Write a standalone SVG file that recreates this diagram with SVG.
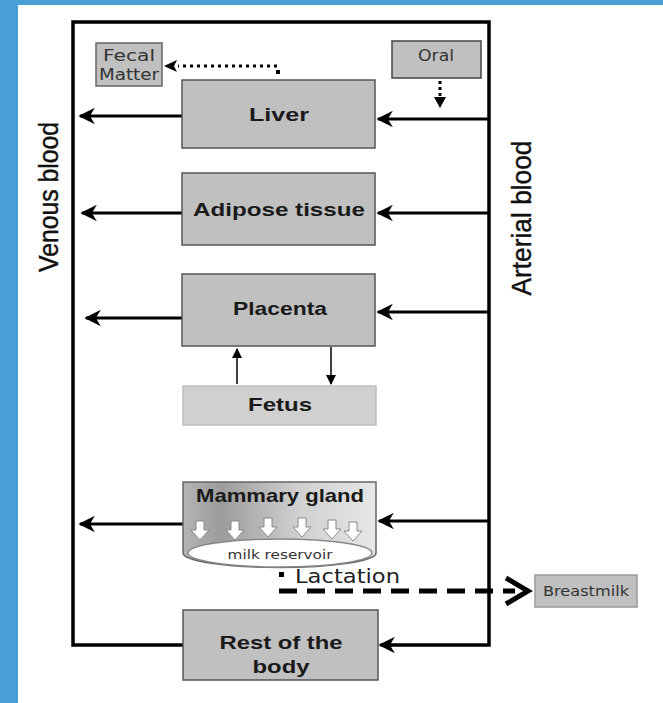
<svg xmlns="http://www.w3.org/2000/svg" width="663" height="703" viewBox="0 0 663 703">
<defs>
<style>
.box{fill:#c0c0c0;stroke:#555;stroke-width:1.5}
.lbl{font-family:"Liberation Sans",Arial,sans-serif;font-weight:bold;font-size:19px;fill:#1a1a1a;text-anchor:middle}
.sm{font-family:"DejaVu Sans","Liberation Sans",sans-serif;font-size:13px;fill:#333;text-anchor:middle}
.frame{fill:none;stroke:#000;stroke-width:3.5}
.arr{stroke:#000;stroke-width:3;fill:none}
.side{font-family:"Liberation Sans",Arial,sans-serif;font-size:27px;fill:#111;text-anchor:middle;stroke:#111;stroke-width:0.4}
</style>
<marker id="ah" viewBox="0 0 10 10" refX="9" refY="5" markerWidth="5.5" markerHeight="5.5" orient="auto" markerUnits="strokeWidth">
<path d="M0,0 L10,5 L0,10 L3,5 Z" fill="#000"/>
</marker>
<marker id="ahs" viewBox="0 0 10 10" refX="9" refY="5" markerWidth="7" markerHeight="7" orient="auto" markerUnits="strokeWidth">
<path d="M0,0 L10,5 L0,10 Z" fill="#000"/>
</marker>
<linearGradient id="mg" x1="0" y1="0" x2="1" y2="0">
<stop offset="0" stop-color="#b4b4b4"/>
<stop offset="0.2" stop-color="#9c9c9c"/>
<stop offset="0.6" stop-color="#d0d0d0"/>
<stop offset="1" stop-color="#e6e6e6"/>
</linearGradient>
</defs>
<rect x="0" y="0" width="663" height="703" fill="#ffffff"/>
<rect x="0" y="0" width="663" height="5" fill="#4a9ed6"/>
<rect x="0" y="0" width="18" height="703" fill="#4a9ed6"/>

<g id="connectors">
<path class="frame" d="M183,645 H73 V22 H489 V645 H390"/>
<line class="arr" x1="489" y1="119" x2="378" y2="119" marker-end="url(#ah)"/>
<line class="arr" x1="489" y1="213" x2="378" y2="213" marker-end="url(#ah)"/>
<line class="arr" x1="489" y1="312" x2="378" y2="312" marker-end="url(#ah)"/>
<line class="arr" x1="489" y1="521" x2="379" y2="521" marker-end="url(#ah)"/>
<line class="arr" x1="392" y1="645" x2="380" y2="645" marker-end="url(#ah)"/>
<line class="arr" x1="182" y1="116" x2="80" y2="116" marker-end="url(#ah)"/>
<line class="arr" x1="182" y1="213" x2="82" y2="213" marker-end="url(#ah)"/>
<line class="arr" x1="182" y1="318" x2="86" y2="318" marker-end="url(#ah)"/>
<line class="arr" x1="183" y1="524" x2="80" y2="524" marker-end="url(#ah)"/>
<line x1="237" y1="384" x2="237" y2="349" stroke="#000" stroke-width="1.5" marker-end="url(#ahs)"/>
<line x1="331" y1="347" x2="331" y2="384" stroke="#000" stroke-width="1.5" marker-end="url(#ahs)"/>
<line x1="277" y1="66" x2="178" y2="66" stroke="#000" stroke-width="3" stroke-dasharray="3,4"/>
<rect x="276" y="70" width="4" height="4" fill="#000"/>
<path d="M164,66 L177,60 L174,66 L177,72 Z" fill="#000"/>
<line x1="440" y1="81" x2="440" y2="98" stroke="#000" stroke-width="3" stroke-dasharray="3,3"/>
<path d="M434,97 L446,97 L440,108 Z" fill="#000"/>
<line x1="279" y1="591" x2="515" y2="591" stroke="#000" stroke-width="5" stroke-dasharray="18,10"/>
<polyline points="506,578 528,591 506,604" fill="none" stroke="#000" stroke-width="5" stroke-linejoin="miter"/>
</g>

<g id="fecal">
<rect x="96" y="43" width="66" height="43" class="box" style="stroke:#666"/>
<text class="sm" x="129" y="61" style="font-size:15px" textLength="52" lengthAdjust="spacingAndGlyphs">Fecal</text>
<text class="sm" x="129" y="80" style="font-size:15px" textLength="60" lengthAdjust="spacingAndGlyphs">Matter</text>
</g>
<g id="oral">
<rect x="392" y="41" width="89" height="37" class="box" style="stroke:#444"/>
<text class="sm" x="436" y="61" style="font-size:15px" textLength="36" lengthAdjust="spacingAndGlyphs">Oral</text>
</g>
<g id="liver">
<rect x="182" y="80" width="193" height="68" class="box"/>
<text class="lbl" x="279" y="121" textLength="60" lengthAdjust="spacingAndGlyphs">Liver</text>
</g>
<g id="adipose">
<rect x="182" y="173" width="193" height="72" class="box"/>
<text class="lbl" x="279" y="216" textLength="172" lengthAdjust="spacingAndGlyphs">Adipose tissue</text>
</g>
<g id="placenta">
<rect x="182" y="274" width="193" height="72" class="box"/>
<text class="lbl" x="280" y="315" textLength="94" lengthAdjust="spacingAndGlyphs">Placenta</text>
</g>
<g id="fetus">
<rect x="183" y="386" width="193" height="39" fill="#d0d0d0" stroke="#bdbdbd" stroke-width="1.5"/>
<text class="lbl" x="280" y="411" textLength="64" lengthAdjust="spacingAndGlyphs">Fetus</text>
</g>
<g id="mammary">
<path d="M183,482 H376 V553 A93,14 0 0 1 183,553 Z" fill="url(#mg)" stroke="#666" stroke-width="1.5"/>
<text class="lbl" x="280" y="502" textLength="168" lengthAdjust="spacingAndGlyphs">Mammary gland</text>
<g fill="#fff" stroke="#888" stroke-width="1">
<path d="M196,521 h8 v9 h5 l-9,10 l-9,-10 h5 Z"/>
<path d="M231,521 h8 v9 h5 l-9,10 l-9,-10 h5 Z"/>
<path d="M264,518 h8 v9 h5 l-9,10 l-9,-10 h5 Z"/>
<path d="M298,518 h8 v9 h5 l-9,10 l-9,-10 h5 Z"/>
<path d="M328,520 h8 v9 h5 l-9,10 l-9,-10 h5 Z"/>
<path d="M349,522 h8 v9 h5 l-9,10 l-9,-10 h5 Z"/>
</g>
<ellipse cx="280" cy="553" rx="92" ry="14" fill="#fff" stroke="#888" stroke-width="1.5"/>
<text class="sm" x="280" y="559" style="font-size:13px" textLength="105" lengthAdjust="spacingAndGlyphs">milk reservoir</text>
</g>
<g id="lactation">
<rect x="279" y="572" width="5" height="5" fill="#000"/>
<text x="295" y="583" font-family="'DejaVu Sans',sans-serif" font-size="20" fill="#222" textLength="105" lengthAdjust="spacingAndGlyphs">Lactation</text>
</g>
<g id="breastmilk">
<rect x="535" y="575" width="102" height="32" fill="#c0c0c0" stroke="#999" stroke-width="1.5"/>
<text class="sm" x="586" y="596" style="font-size:14px" textLength="86" lengthAdjust="spacingAndGlyphs">Breastmilk</text>
</g>
<g id="rest">
<rect x="183" y="610" width="195" height="70" class="box"/>
<text class="lbl" x="281" y="649" textLength="123" lengthAdjust="spacingAndGlyphs">Rest of the</text>
<text class="lbl" x="281" y="673" textLength="57" lengthAdjust="spacingAndGlyphs">body</text>
</g>
<g id="venous">
<text class="side" transform="translate(58,197) rotate(-90)" textLength="150" lengthAdjust="spacingAndGlyphs">Venous blood</text>
</g>
<g id="arterial">
<text class="side" transform="translate(531,218) rotate(-90)" textLength="155" lengthAdjust="spacingAndGlyphs">Arterial  blood</text>
</g>
</svg>
